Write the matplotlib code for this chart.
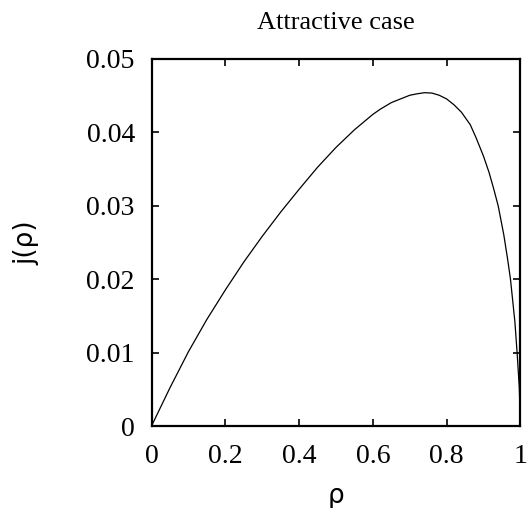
import matplotlib

matplotlib.use("Agg")
import matplotlib.pyplot as plt

# values
rho = [0.0, 0.05, 0.1, 0.15, 0.2, 0.25, 0.3, 0.35, 0.4, 0.45, 0.5, 0.55,
       0.6, 0.62, 0.65, 0.68, 0.7, 0.72, 0.74, 0.76, 0.78, 0.8, 0.82,
       0.84, 0.864, 0.88, 0.9, 0.915, 0.928, 0.94, 0.955, 0.965, 0.973,
       0.985, 0.991, 0.997, 1.0]
j = [0.0, 0.0052, 0.0101, 0.0145, 0.0185, 0.0223, 0.0258, 0.0291, 0.0322,
     0.0352, 0.0379, 0.0403, 0.0424, 0.0431, 0.0440, 0.0446, 0.0450,
     0.0452, 0.04535, 0.0453, 0.0450, 0.0445, 0.0437, 0.0427, 0.0410,
     0.0392, 0.0367, 0.0345, 0.0322, 0.0299, 0.0260, 0.0228, 0.0200,
     0.0142, 0.0100, 0.0052, 0.0]

x_ticks = [0, 0.2, 0.4, 0.6, 0.8, 1]
x_ticklabels = ["0", "0.2", "0.4", "0.6", "0.8", "1"]
y_ticks = [0, 0.01, 0.02, 0.03, 0.04, 0.05]
y_ticklabels = ["0", "0.01", "0.02", "0.03", "0.04", "0.05"]

SERIF = ["Liberation Serif", "DejaVu Serif"]
FS = 20

fig = plt.figure(figsize=(5.27, 5.08), dpi=100)
ax = fig.add_axes([0.2875, 0.1614, 0.700, 0.7234])

ax.plot(rho, j, color="black", linewidth=0.9)

ax.set_xlim(0, 1)
ax.set_ylim(0, 0.05)
ax.set_xticks(x_ticks)
ax.set_xticklabels(x_ticklabels, family=SERIF, fontsize=FS)
ax.set_yticks(y_ticks)
ax.set_yticklabels(y_ticklabels, family=SERIF, fontsize=FS)
ax.tick_params(direction="in", length=5, width=1.2, top=True, right=True)
ax.tick_params(axis="x", pad=13)
ax.tick_params(axis="y", pad=12)
for sp in ax.spines.values():
    sp.set_linewidth(1.6)

ax.set_title("Attractive case", family=SERIF, fontsize=19, pad=21)
ax.set_xlabel("ρ", family=["DejaVu Sans"], fontsize=19, labelpad=10)
ax.set_ylabel("j(ρ)", family=["DejaVu Sans"], fontsize=19, labelpad=34)

fig.savefig("out.png", dpi=100)
